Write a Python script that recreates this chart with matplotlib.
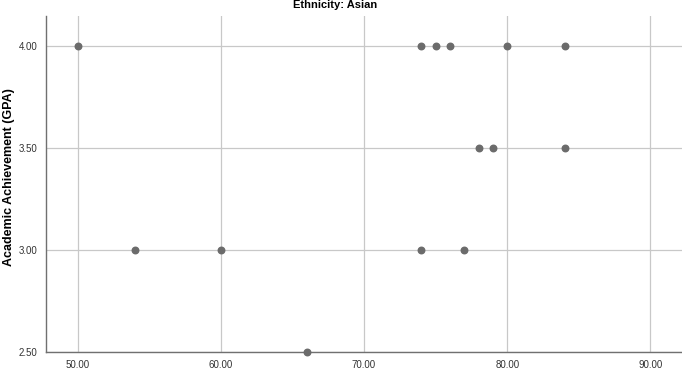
import matplotlib
matplotlib.use('Agg')
import matplotlib.pyplot as plt

# Scatter data: (x score, GPA)
x_vals = [50, 74, 75, 76, 80, 84, 78, 79, 84, 54, 60, 74, 77, 66]
gpa = [4.0, 4.0, 4.0, 4.0, 4.0, 4.0, 3.5, 3.5, 3.5, 3.0, 3.0, 3.0, 3.0, 2.5]
x_ticks = [50, 60, 70, 80, 90]
y_ticks = [2.5, 3.0, 3.5, 4.0]

plt.rcParams['font.family'] = ['Liberation Sans', 'DejaVu Sans']

fig = plt.figure(figsize=(6.82, 3.77), dpi=100)
ax = fig.add_axes([46 / 682, 25 / 377, 636 / 682, 336 / 377])

ax.scatter(x_vals, gpa, s=22, color='#6b6b6b', zorder=3, clip_on=False)

ax.set_xlim(47.8, 92.2)
ax.set_ylim(2.5, 4.147)
ax.set_xticks(x_ticks)
ax.set_yticks(y_ticks)
ax.set_xticklabels(['%.2f' % v for v in x_ticks], fontsize=7, color='#333333')
ax.set_yticklabels(['%.2f' % v for v in y_ticks], fontsize=7, color='#333333')
ax.tick_params(length=0, pad=6)

ax.grid(True, color='#c8c8c8', linewidth=0.9)
ax.set_axisbelow(True)
for side in ['top', 'right']:
    ax.spines[side].set_visible(False)
for side in ['left', 'bottom']:
    ax.spines[side].set_color('#707070')
    ax.spines[side].set_linewidth(1.0)

ax.set_ylabel('Academic Achievement (GPA)', fontsize=9, fontweight='bold')
ax.yaxis.set_label_coords(-0.049, 0.52)
fig.text(335 / 682, 1.0, 'Ethnicity: Asian', ha='center', va='top',
         fontsize=8, fontweight='bold')

fig.savefig('out.png', dpi=100)
